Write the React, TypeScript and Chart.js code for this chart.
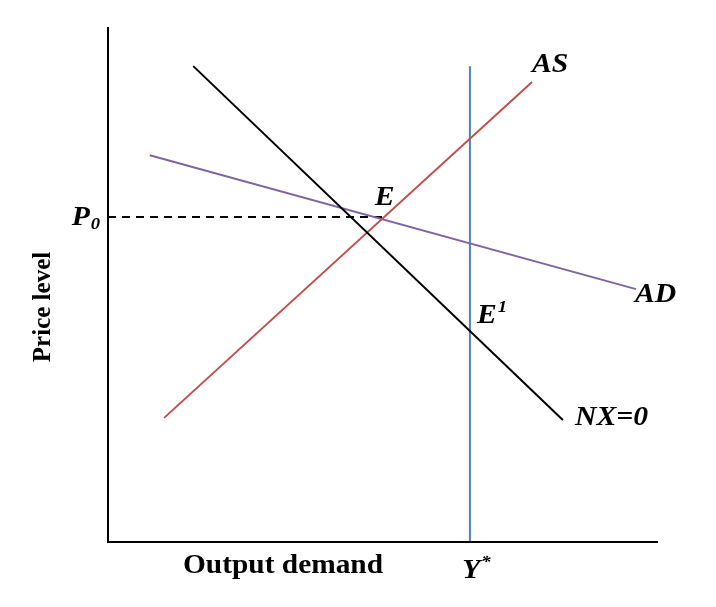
import React, { useEffect, useRef } from "react";
import { Chart, registerables } from "chart.js";

Chart.register(...registerables);

// Line endpoints in chart units (x: output 0..100, y: price 0..100)
const nxX = [15.5, 82.7];
const nxY = [92.4, 23.7];
const asX = [10.2, 77.1];
const asY = [24.1, 89.3];
const adX = [7.6, 96.0];
const adY = [75.1, 49.1];
const yStarX = [65.8, 65.8];
const yStarY = [92.4, 0];
const p0X = [0, 50.0];
const p0Y = [63.1, 63.1];

const seriesNames = ["NX=0", "AS", "AD", "Y*", "P0"];
const seriesColors = ["#000000", "#c0504d", "#8064a2", "#4f81bd", "#000000"];

const xTitle = "Output demand";
const yTitle = "Price level";

const toPts = (xs: number[], ys: number[]) => xs.map((x, i) => ({ x, y: ys[i] }));

const FONT = "'Liberation Serif', 'Times New Roman', serif";

const overlayPlugin = {
  id: "overlay",
  afterDraw(chart: any) {
    const { ctx, chartArea, scales } = chart;
    const xs = scales.x;
    const ys = scales.y;
    const px = (v: number) => xs.getPixelForValue(v);
    const py = (v: number) => ys.getPixelForValue(v);
    ctx.save();
    // axes
    ctx.strokeStyle = "#000";
    ctx.lineWidth = 2;
    ctx.beginPath();
    ctx.moveTo(chartArea.left, chartArea.top);
    ctx.lineTo(chartArea.left, chartArea.bottom);
    ctx.lineTo(chartArea.right, chartArea.bottom);
    ctx.stroke();

    ctx.fillStyle = "#000";
    ctx.textBaseline = "alphabetic";
    const big = `italic bold 27px ${FONT}`;
    const small = `italic bold 17px ${FONT}`;
    const SX = 1.1;

    const stretched = (text: string, x: number, y: number, sx: number) => {
      ctx.save();
      ctx.translate(x, y);
      ctx.scale(sx, 1);
      ctx.fillText(text, 0, 0);
      ctx.restore();
      return ctx.measureText(text).width * sx;
    };

    const label = (text: string, x: number, y: number, sup?: string, sub?: string) => {
      ctx.font = big;
      ctx.textAlign = "left";
      const w = stretched(text, x, y, SX);
      if (sup) {
        ctx.font = small;
        stretched(sup, x + w + 1, y - 11, SX);
      }
      if (sub) {
        ctx.font = small;
        stretched(sub, x + w + 1, y + 4, SX);
      }
    };

    label("AS", px(77.1), py(91.3));
    label("AD", px(95.8), py(46.6));
    label("NX=0", px(84.9), py(22.7));
    label("E", px(48.5), py(65.4));
    label("E", px(67.1), py(42.5), "1");
    label("P", px(-6.6), py(61.5), undefined, "0");
    label("Y", px(64.4), py(-7.0), "*");

    // axis titles
    ctx.font = `bold 28px ${FONT}`;
    ctx.textAlign = "left";
    const tw = ctx.measureText(xTitle).width * 1.05;
    stretched(xTitle, 283 - tw / 2, 573, 1.05);
    ctx.save();
    ctx.font = `bold 25px ${FONT}`;
    ctx.textAlign = "center";
    ctx.translate(50, 307);
    ctx.rotate(-Math.PI / 2);
    ctx.fillText(yTitle, 0, 0);
    ctx.restore();
    ctx.restore();
  },
};

export default function App() {
  const ref = useRef<HTMLCanvasElement>(null);
  useEffect(() => {
    if (!ref.current) return;
    const pairs = [
      [nxX, nxY],
      [asX, asY],
      [adX, adY],
      [yStarX, yStarY],
      [p0X, p0Y],
    ];
    const chart = new Chart(ref.current, {
      type: "scatter",
      data: {
        datasets: pairs.map((p, i) => ({
          label: seriesNames[i],
          data: toPts(p[0], p[1]),
          showLine: true,
          borderColor: seriesColors[i],
          backgroundColor: seriesColors[i],
          borderWidth: 2,
          pointRadius: 0,
          borderDash: i === 4 ? [8, 6] : [],
          clip: false as any,
        })),
      },
      options: {
        responsive: false,
        animation: false,
        devicePixelRatio: 1,
        layout: { padding: { left: 108, right: 58, top: 27, bottom: 65 } },
        plugins: { legend: { display: false }, tooltip: { enabled: false } },
        scales: {
          x: { type: "linear", min: 0, max: 100, display: false },
          y: { type: "linear", min: 0, max: 100, display: false },
        },
      },
      plugins: [overlayPlugin],
    });
    return () => chart.destroy();
  }, []);
  return (
    <div style={{ position: "absolute", left: 0, top: 0, width: 716, height: 607, background: "#fff" }}>
      <canvas ref={ref} width={716} height={607} />
    </div>
  );
}
